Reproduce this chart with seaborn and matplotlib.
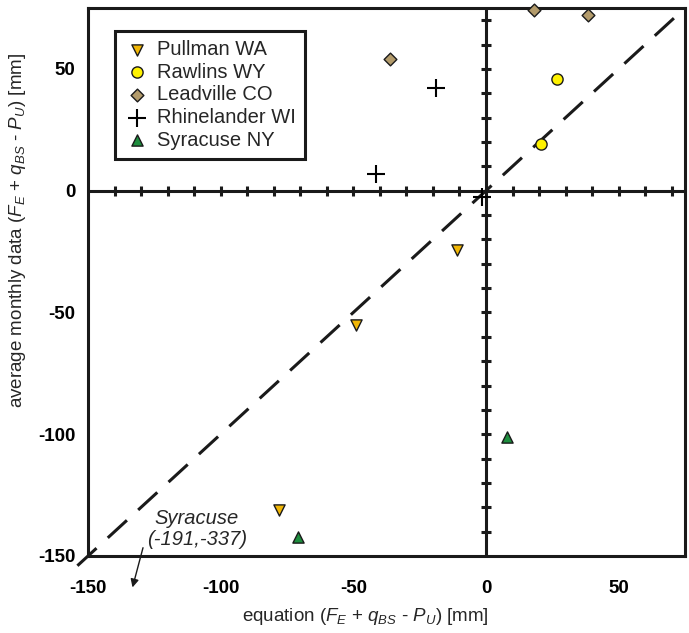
import numpy as np
import pandas as pd
import matplotlib
matplotlib.use("Agg")
import matplotlib.pyplot as plt
import seaborn as sns

sns.set_theme(style="white")
plt.rcParams['font.family'] = ['Liberation Sans', 'DejaVu Sans']
plt.rcParams['mathtext.fontset'] = 'custom'
plt.rcParams['mathtext.rm'] = 'Liberation Sans'
plt.rcParams['mathtext.it'] = 'Liberation Sans:italic'
plt.rcParams['axes.unicode_minus'] = False

# ---- data ----
sites = ["Pullman WA", "Rawlins WY", "Leadville CO", "Rhinelander WI", "Syracuse NY"]
pullman_x = [-78, -49, -11]
pullman_y = [-131, -55, -24.5]
rawlins_x = [26.7, 20.7]
rawlins_y = [46, 19.3]
leadville_x = [-36, 18, 38.3]
leadville_y = [54, 74.3, 72]
rhinelander_x = [-19, -41.5, -1.5]
rhinelander_y = [42, 7, -2.5]
syracuse_x = [-70.7, 7.9]
syracuse_y = [-142.2, -101.2]

tick_vals = [-150, -100, -50, 0, 50]
axis_lim = [-150, 75]

xs = [pullman_x, rawlins_x, leadville_x, rhinelander_x, syracuse_x]
ys = [pullman_y, rawlins_y, leadville_y, rhinelander_y, syracuse_y]
rows = []
for s, xv, yv in zip(sites, xs, ys):
    for a, b in zip(xv, yv):
        rows.append({"site": s, "eq": a, "obs": b})
df = pd.DataFrame(rows)

colors = {"Pullman WA": "#F2B705", "Rawlins WY": "#FFF200", "Leadville CO": "#B39B6B",
          "Rhinelander WI": "black", "Syracuse NY": "#1E8E3E"}
markers = {"Pullman WA": "v", "Rawlins WY": "o", "Leadville CO": "D",
           "Rhinelander WI": "+", "Syracuse NY": "^"}
sizes = {"Pullman WA": 65, "Rawlins WY": 65, "Leadville CO": 42,
         "Rhinelander WI": 150, "Syracuse NY": 65}

fig = plt.figure(figsize=(6.89, 6.33), dpi=100)
ax = fig.add_axes([88/689, 1-556/633, (685-88)/689, (556-8)/633])

# cross axes through origin
ax.axhline(0, color="#1a1a1a", lw=2.2, zorder=2)
ax.axvline(0, color="#1a1a1a", lw=2.2, zorder=2)
minor = [v for v in range(-140, 75, 10) if v != 0]
ax.plot(minor, [0]*len(minor), ls="none", marker="|", ms=7, mew=2.2, color="#1a1a1a", zorder=2)
ax.plot([0]*len(minor), minor, ls="none", marker="_", ms=7, mew=2.2, color="#1a1a1a", zorder=2)

# 1:1 line
ax.plot([-154, 75], [-154, 75], color="#1a1a1a", lw=2.2, dashes=(8.5, 5), zorder=3, clip_on=False)

for s in sites:
    sub = df[df.site == s]
    if markers[s] == "+":
        sns.scatterplot(data=sub, x="eq", y="obs", marker="+", s=sizes[s], color="black",
                        linewidth=1.5, ax=ax, label=s, zorder=4)
    else:
        sns.scatterplot(data=sub, x="eq", y="obs", marker=markers[s], s=sizes[s],
                        color=colors[s], edgecolor="#1a1a1a", linewidth=1.0, ax=ax,
                        label=s, zorder=4, clip_on=False)

ax.set_xlim(axis_lim)
ax.set_ylim(axis_lim)
ax.set_xticks(tick_vals)
ax.set_yticks(tick_vals)
ax.tick_params(axis="both", length=0, labelsize=13.5, colors="black")
ax.tick_params(axis="x", pad=17)
ax.tick_params(axis="y", pad=9)
for lab in ax.get_xticklabels() + ax.get_yticklabels():
    lab.set_fontweight("bold")
for sp in ax.spines.values():
    sp.set_visible(True)
    sp.set_color("#1a1a1a")
    sp.set_linewidth(2.2)
ax.grid(False)

ax.set_xlabel(r"equation ($F_E$ + $q_{BS}$ - $P_U$) [mm]", fontsize=13.5)
ax.set_ylabel(r"average monthly data ($F_E$ + $q_{BS}$ - $P_U$) [mm]", fontsize=13.5)
ax.xaxis.set_label_coords(0.465, -0.092)
ax.yaxis.set_label_coords(-0.1, 0.595)

ax.text(-109, -134.4, "Syracuse", style="italic", fontsize=14.5, ha="center", va="center")
ax.text(-109, -143.4, "(-191,-337)", style="italic", fontsize=14.5, ha="center", va="center")
ax.annotate("", xy=(-133.5, -164), xytext=(-129, -145.5), annotation_clip=False,
            arrowprops=dict(arrowstyle="-|>", color="#1a1a1a", lw=1.0, mutation_scale=12))

leg = ax.legend(loc="upper left", bbox_to_anchor=(0.045, 0.958), fontsize=14.5, frameon=True,
                fancybox=False, edgecolor="#1a1a1a", framealpha=1, handletextpad=0.35,
                borderpad=0.45, labelspacing=0.18, handlelength=1.3, borderaxespad=0)
leg.get_frame().set_linewidth(2.2)

fig.savefig("out.png", dpi=100)
